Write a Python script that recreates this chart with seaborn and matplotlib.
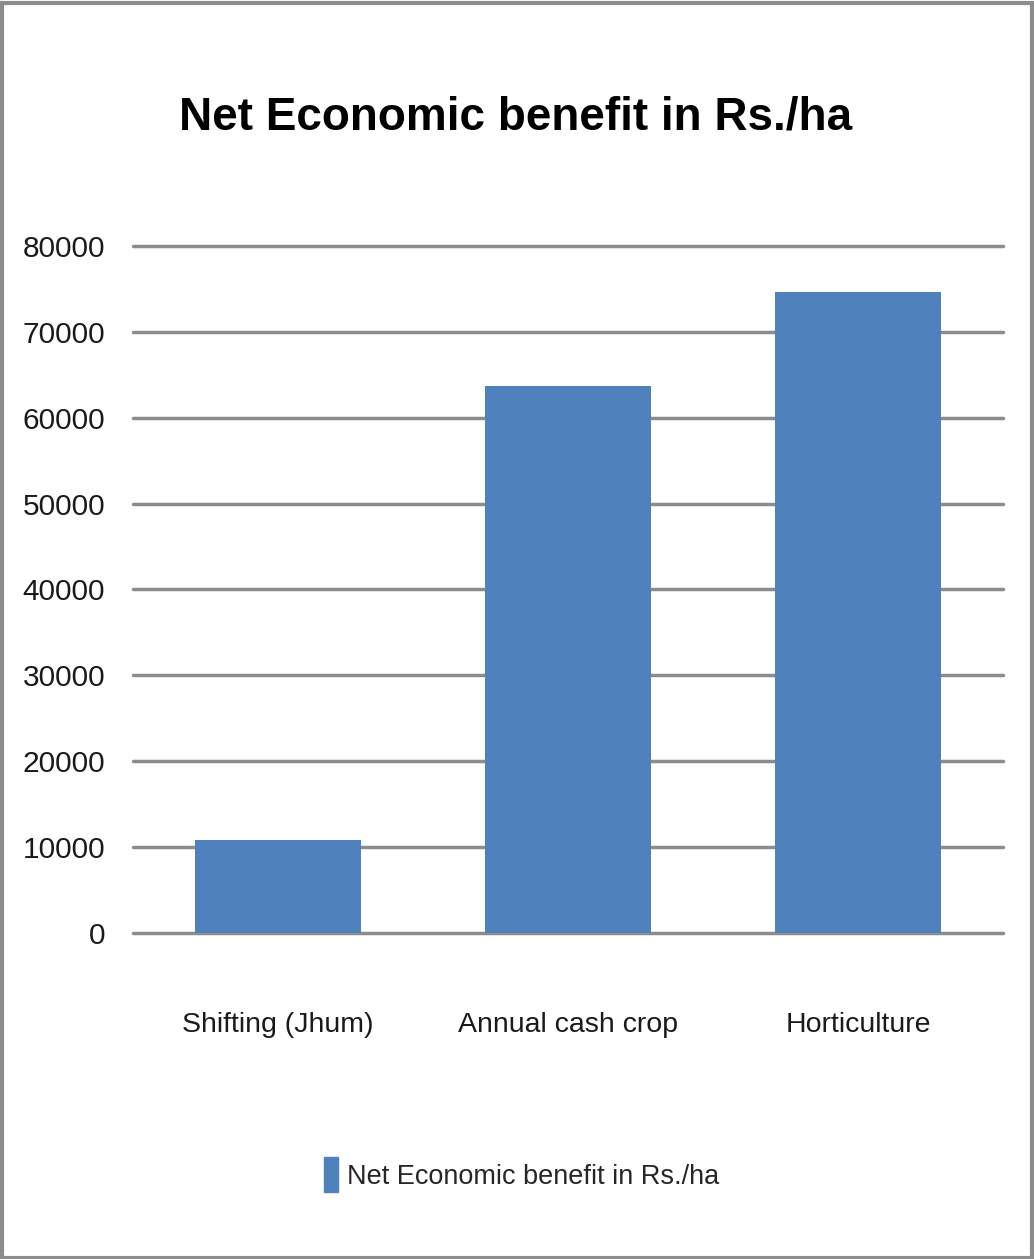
import pandas as pd
import matplotlib
matplotlib.use('Agg')
import matplotlib.pyplot as plt
import seaborn as sns
from matplotlib.patches import Rectangle, Patch

# datos del grafico
categorias = ['Shifting (Jhum)', 'Annual cash crop', 'Horticulture']
beneficio = [10800, 63700, 74600]
serie = 'Net Economic benefit in Rs./ha'
y_ticks = [0, 10000, 20000, 30000, 40000, 50000, 60000, 70000, 80000]

df = pd.DataFrame({'categoria': categorias, 'beneficio': beneficio})

sns.set_style('white')
plt.rcParams['font.family'] = ['Liberation Sans', 'DejaVu Sans']

fig = plt.figure(figsize=(10.34, 12.59), dpi=100)
ax = fig.add_axes([0.1286, 0.259, 0.8414, 0.5456])

sns.barplot(data=df, x='categoria', y='beneficio', color='#4f81bd',
            width=0.575, saturation=1, linewidth=0, ax=ax, zorder=3)

ax.set_ylim(0, 80000)
ax.set_yticks(y_ticks)
ax.set_yticklabels([str(v) for v in y_ticks], fontsize=21.5)
ax.set_xlim(-0.5, 2.5)
ax.tick_params(axis='both', length=0, colors='#1a1a1a')
ax.tick_params(axis='y', pad=20)
ax.tick_params(axis='x', pad=57, labelsize=20.5)
ax.yaxis.grid(True, color='#8c8c8c', linewidth=2.5, zorder=0)
ax.set_axisbelow(True)
for gl in ax.get_ygridlines():
    gl.set_clip_on(False)
for s in ax.spines.values():
    s.set_visible(False)
ax.set_xlabel('')
ax.set_ylabel('')

fig.text(0.499, 0.907, serie, ha='center', va='center', fontsize=33,
         fontweight='bold', color='black')

fig.legend(handles=[Patch(color='#4f81bd', label=serie)],
           loc='center', bbox_to_anchor=(0.504, 0.067), frameon=False,
           fontsize=19.5, handlelength=0.55, handleheight=1.6, handletextpad=0.3)

# marco de la figura
fig.patches.append(Rectangle((0.002, 0.001), 0.996, 0.997, transform=fig.transFigure,
                             fill=False, edgecolor='#8c8c8c', linewidth=3))

plt.savefig('out.png', dpi=100)
